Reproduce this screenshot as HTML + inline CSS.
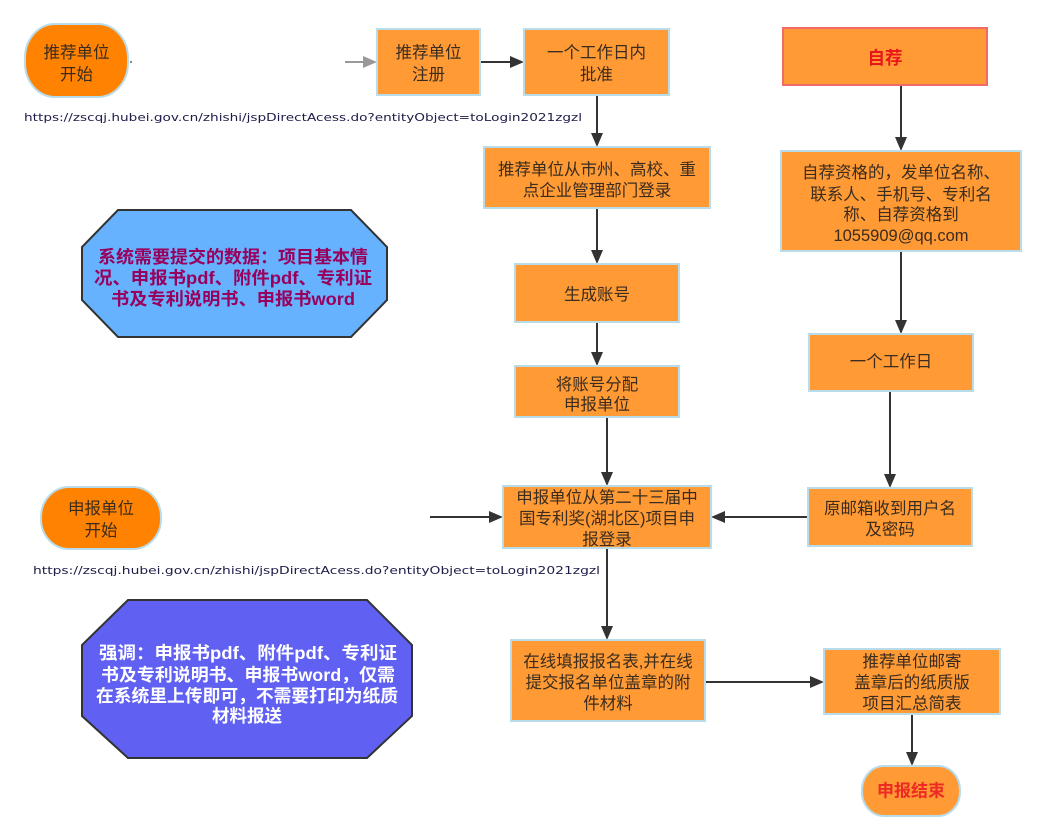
<!DOCTYPE html>
<html>
<head>
<meta charset="utf-8">
<style>
html,body{margin:0;padding:0;background:#fff;}
svg{display:block;}
.t{font-family:"Liberation Sans","Noto Sans CJK SC",sans-serif;font-size:16.5px;fill:#3a2c1e;}
.b{font-family:"Liberation Sans","Noto Sans CJK SC",sans-serif;font-weight:bold;font-size:17.5px;}
.u{font-family:"DejaVu Sans",sans-serif;font-size:11px;fill:#1c1c48;}
</style>
</head>
<body>
<svg width="1045" height="839" viewBox="0 0 1045 839" xmlns="http://www.w3.org/2000/svg">
<rect width="1045" height="839" fill="#fff"/>

<!-- connectors -->
<g stroke="#333" stroke-width="2" fill="none">
  <line x1="480" y1="62" x2="512" y2="62"/>
  <line x1="597" y1="95" x2="597" y2="135"/>
  <line x1="597" y1="208" x2="597" y2="252"/>
  <line x1="597" y1="322" x2="597" y2="354"/>
  <line x1="607" y1="417" x2="607" y2="474"/>
  <line x1="430" y1="517" x2="491" y2="517"/>
  <line x1="808" y1="517" x2="723" y2="517"/>
  <line x1="607" y1="548" x2="607" y2="628"/>
  <line x1="705" y1="682" x2="812" y2="682"/>
  <line x1="912" y1="714" x2="912" y2="754"/>
  <line x1="901" y1="85" x2="901" y2="139"/>
  <line x1="901" y1="251" x2="901" y2="322"/>
  <line x1="890" y1="391" x2="890" y2="476"/>
</g>
<line x1="345" y1="62" x2="366" y2="62" stroke="#999" stroke-width="2"/>
<polygon points="377,62 363,56 363,68" fill="#999"/>
<g fill="#333">
  <polygon points="524,62 510,56 510,68"/>
  <polygon points="597,147 591,133 603,133"/>
  <polygon points="597,264 591,250 603,250"/>
  <polygon points="597,366 591,352 603,352"/>
  <polygon points="607,486 601,472 613,472"/>
  <polygon points="503,517 489,511 489,523"/>
  <polygon points="711,517 725,511 725,523"/>
  <polygon points="607,640 601,626 613,626"/>
  <polygon points="824,682 810,676 810,688"/>
  <polygon points="912,766 906,752 918,752"/>
  <polygon points="901,151 895,137 907,137"/>
  <polygon points="901,334 895,320 907,320"/>
  <polygon points="890,488 884,474 896,474"/>
</g>

<!-- start ovals -->
<rect x="25" y="24" width="103" height="73" rx="30" ry="34" fill="#FF8200" stroke="#B9DCEB" stroke-width="2"/>
<circle cx="131" cy="62" r="1.2" fill="#888"/>
<text class="t" text-anchor="middle" dominant-baseline="central"><tspan x="76.5" y="53">推荐单位</tspan><tspan x="76.5" y="75">开始</tspan></text>

<rect x="41" y="487" width="120" height="62" rx="28" ry="30" fill="#FF8200" stroke="#B9DCEB" stroke-width="2"/>
<text class="t" text-anchor="middle" dominant-baseline="central"><tspan x="101" y="509">申报单位</tspan><tspan x="101" y="531">开始</tspan></text>

<!-- boxes -->
<g fill="#FF9A35" stroke="#B9DCEB" stroke-width="2">
  <rect x="377" y="29" width="103" height="66"/>
  <rect x="524" y="29" width="145" height="66"/>
  <rect x="484" y="147" width="226" height="61"/>
  <rect x="515" y="264" width="164" height="58"/>
  <rect x="515" y="366" width="164" height="51"/>
  <rect x="503" y="486" width="208" height="62"/>
  <rect x="511" y="640" width="194" height="81"/>
  <rect x="824" y="649" width="176" height="65"/>
  <rect x="781" y="151" width="240" height="100"/>
  <rect x="809" y="334" width="164" height="57"/>
  <rect x="808" y="488" width="164" height="58"/>
</g>
<rect x="783" y="28" width="204" height="57" fill="#FF9A35" stroke="#F06A6A" stroke-width="2"/>
<rect x="862" y="766" width="98" height="50" rx="22" ry="24" fill="#FF9A35" stroke="#B9DCEB" stroke-width="2"/>

<!-- box texts -->
<g class="t" text-anchor="middle" dominant-baseline="central">
  <text><tspan x="428.5" y="53">推荐单位</tspan><tspan x="428.5" y="75">注册</tspan></text>
  <text><tspan x="596.5" y="53">一个工作日内</tspan><tspan x="596.5" y="75">批准</tspan></text>
  <text><tspan x="597" y="170">推荐单位从市州、高校、重</tspan><tspan x="597" y="191">点企业管理部门登录</tspan></text>
  <text x="597" y="295">生成账号</text>
  <text><tspan x="597" y="385">将账号分配</tspan><tspan x="597" y="405">申报单位</tspan></text>
  <text><tspan x="607" y="498">申报单位从第二十三届中</tspan><tspan x="607" y="519">国专利奖(湖北区)项目申</tspan><tspan x="607" y="540">报登录</tspan></text>
  <text><tspan x="608" y="662">在线填报报名表,并在线</tspan><tspan x="608" y="683">提交报名单位盖章的附</tspan><tspan x="608" y="704">件材料</tspan></text>
  <text><tspan x="912" y="662">推荐单位邮寄</tspan><tspan x="912" y="683">盖章后的纸质版</tspan><tspan x="912" y="704">项目汇总简表</tspan></text>
  <text><tspan x="901" y="173">自荐资格的，发单位名称、</tspan><tspan x="901" y="195">联系人、手机号、专利名</tspan><tspan x="901" y="215">称、自荐资格到</tspan><tspan x="901" y="236">1055909@qq.com</tspan></text>
  <text x="891" y="362">一个工作日</text>
  <text><tspan x="890" y="509">原邮箱收到用户名</tspan><tspan x="890" y="530">及密码</tspan></text>
</g>
<text class="b" x="885" y="58" text-anchor="middle" dominant-baseline="central" fill="#E8161A">自荐</text>
<text class="b" x="911" y="791" text-anchor="middle" dominant-baseline="central" fill="#EE2A24" style="font-size:17px">申报结束</text>

<!-- URLs -->
<text class="u" x="24" y="121" textLength="558" lengthAdjust="spacingAndGlyphs">https://zscqj.hubei.gov.cn/zhishi/jspDirectAcess.do?entityObject=toLogin2021zgzl</text>
<text class="u" x="33" y="574" textLength="567" lengthAdjust="spacingAndGlyphs">https://zscqj.hubei.gov.cn/zhishi/jspDirectAcess.do?entityObject=toLogin2021zgzl</text>

<!-- octagon 1 -->
<polygon points="118,210 351,210 387,247 387,300 351,337 118,337 82,300 82,247" fill="#66B2FF" stroke="#333" stroke-width="2"/>
<g class="b" text-anchor="middle" dominant-baseline="central" fill="#99005C">
  <text x="233" y="257" textLength="270" lengthAdjust="spacingAndGlyphs">系统需要提交的数据：项目基本情</text>
  <text x="233" y="278" textLength="278" lengthAdjust="spacingAndGlyphs">况、申报书pdf、附件pdf、专利证</text>
  <text x="233" y="299" textLength="244" lengthAdjust="spacingAndGlyphs">书及专利说明书、申报书word</text>
</g>

<!-- octagon 2 -->
<polygon points="128,600 367,600 412,645 412,716 367,758 128,758 82,716 82,645" fill="#6060F2" stroke="#333" stroke-width="2"/>
<g class="b" text-anchor="middle" dominant-baseline="central" fill="#ffffff">
  <text x="248" y="653" textLength="298" lengthAdjust="spacingAndGlyphs">强调：申报书pdf、附件pdf、专利证</text>
  <text x="248" y="675" textLength="294" lengthAdjust="spacingAndGlyphs">书及专利说明书、申报书word，仅需</text>
  <text x="247" y="696" textLength="302" lengthAdjust="spacingAndGlyphs">在系统里上传即可，不需要打印为纸质</text>
  <text x="247" y="716">材料报送</text>
</g>
</svg>
</body>
</html>
